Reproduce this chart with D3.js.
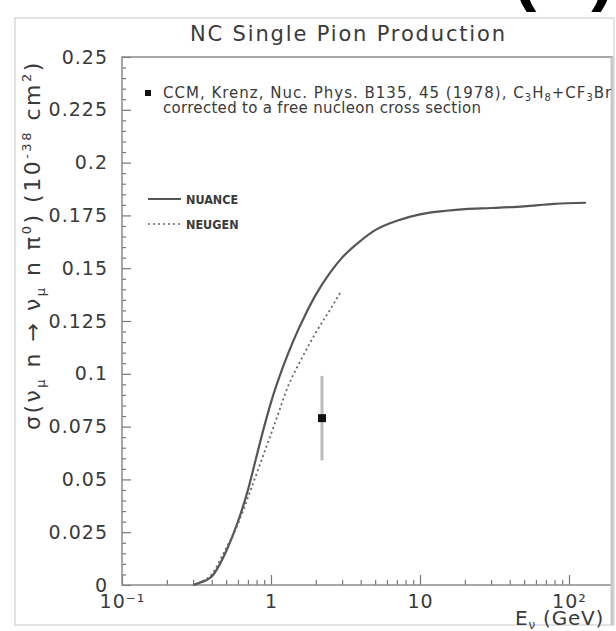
<!DOCTYPE html>
<html>
<head>
<meta charset="utf-8">
<script src="https://cdn.jsdelivr.net/npm/d3@7"></script>
<style>
  body { margin: 0; background: #fff; }
  svg { display: block; }
  text { font-family: "DejaVu Sans", sans-serif; fill: #3a3a3a; }
</style>
</head>
<body>
<div id="chart"></div>
<script>
// NUANCE curve  (E in GeV, sigma in 1e-38 cm^2)
var nuanceE = [0.30, 0.33, 0.40, 0.50, 0.60, 0.70, 0.80, 0.90, 1.0, 1.2, 1.4, 1.7, 2.0, 2.5, 3.0, 4, 5, 7, 10, 15, 20, 30, 50, 80, 130];
var nuanceS = [0, 0.001, 0.004, 0.016, 0.030, 0.045, 0.061, 0.075, 0.0865, 0.103, 0.115, 0.128, 0.1375, 0.148, 0.155, 0.163, 0.168, 0.1725, 0.1755, 0.1772, 0.178, 0.1785, 0.1793, 0.1805, 0.181];
// NEUGEN curve
var neugenE = [0.30, 0.35, 0.40, 0.48, 0.60, 0.73, 0.90, 1.13, 1.25, 1.6, 2.0, 2.5, 2.95];
var neugenS = [0, 0.002, 0.005, 0.015, 0.029, 0.045, 0.0626, 0.082, 0.091, 0.107, 0.1195, 0.1305, 0.139];
// CCM Krenz data point
var dataE = [2.2];
var dataS = [0.079];
var dataErr = [0.02];

var yTicks = [0, 0.025, 0.05, 0.075, 0.1, 0.125, 0.15, 0.175, 0.2, 0.225, 0.25];
var yTickLabels = ["0", "0.025", "0.05", "0.075", "0.1", "0.125", "0.15", "0.175", "0.2", "0.225", "0.25"];
var xTicks = [0.1, 1, 10, 100];
var xTickLabels = ["10\u207B\u00B9", "1", "10", "10\u00B2"];

var W = 616, H = 631;
var pLeft = 122, pRight = 612, pTop = 57, pBottom = 585;

var svg = d3.select("#chart").append("svg")
  .attr("width", W)
  .attr("height", H);

// outer frame
svg.append("rect")
  .attr("x", 15).attr("y", 18).attr("width", 599).attr("height", 607)
  .attr("fill", "none").attr("stroke", "#d0d0d0").attr("stroke-width", 1.2);

// "(a)" label cut off at the top
svg.append("text")
  .attr("x", 513).attr("y", -3)
  .style("font-family", "Liberation Sans, sans-serif")
  .style("font-weight", "bold")
  .style("font-size", "70px")
  .style("letter-spacing", "8px")
  .style("fill", "#000")
  .text("(a)");

// title
svg.append("text")
  .attr("x", 190).attr("y", 41)
  .attr("textLength", 315).attr("lengthAdjust", "spacing")
  .style("font-size", "21px")
  .text("NC Single Pion Production");

var x = d3.scaleLog()
  .domain([0.1, Math.pow(10, (pRight - pLeft) / 149 - 1)])
  .range([pLeft, pRight]);
var y = d3.scaleLinear()
  .domain([0, 0.25])
  .range([pBottom, pTop]);

// minor ticks
var xMinor = [];
[0.1, 1, 10, 100].forEach(function(d) {
  for (var k = 2; k <= 9; k++) { if (d * k < x.domain()[1]) xMinor.push(d * k); }
});
var yMinor = [];
for (var i = 0; i <= 50; i++) { if (i % 5 != 0) yMinor.push(i * 0.005); }

var gx = svg.append("g").attr("transform", "translate(0," + pBottom + ")");
gx.call(d3.axisBottom(x).tickValues(xMinor).tickSize(-5).tickFormat(""));
gx.append("g").call(d3.axisBottom(x).tickValues(xTicks).tickSize(-10).tickPadding(10)
  .tickFormat(function(d, i) { return xTickLabels[i]; }));

var gy = svg.append("g").attr("transform", "translate(" + pLeft + ",0)");
gy.call(d3.axisLeft(y).tickValues(yMinor).tickSize(-4).tickFormat(""));
gy.append("g").call(d3.axisLeft(y).tickValues(yTicks).tickSize(-9).tickPadding(14)
  .tickFormat(function(d, i) { return yTickLabels[i]; }));

svg.selectAll(".domain").remove();
svg.selectAll(".tick line").attr("stroke", "#777").attr("stroke-width", 1.2);
svg.selectAll(".tick text")
  .style("font-family", "DejaVu Sans, sans-serif")
  .style("font-size", "19px")
  .style("letter-spacing", "1px")
  .style("fill", "#3a3a3a");

// plot frame
svg.append("rect")
  .attr("x", pLeft).attr("y", pTop).attr("width", pRight - pLeft).attr("height", pBottom - pTop)
  .attr("fill", "none").attr("stroke", "#8a8a8a").attr("stroke-width", 1.5);
svg.append("line")
  .attr("x1", pRight).attr("x2", pRight).attr("y1", pTop).attr("y2", pBottom + 40)
  .attr("stroke", "#c8c8c8").attr("stroke-width", 3);

var line = d3.line()
  .x(function(d) { return x(d[0]); })
  .y(function(d) { return y(d[1]); })
  .curve(d3.curveMonotoneX);

svg.append("path")
  .datum(nuanceE.map(function(e, i) { return [e, nuanceS[i]]; }))
  .attr("d", line)
  .attr("fill", "none").attr("stroke", "#555").attr("stroke-width", 2.2);

svg.append("path")
  .datum(neugenE.map(function(e, i) { return [e, neugenS[i]]; }))
  .attr("d", line)
  .attr("fill", "none").attr("stroke", "#666").attr("stroke-width", 1.8)
  .attr("stroke-dasharray", "2,3");

// data point with error bar
dataE.forEach(function(e, i) {
  svg.append("line")
    .attr("x1", x(e)).attr("x2", x(e))
    .attr("y1", y(dataS[i] - dataErr[i])).attr("y2", y(dataS[i] + dataErr[i]))
    .attr("stroke", "#bbb").attr("stroke-width", 3);
  svg.append("rect")
    .attr("x", x(e) - 4).attr("y", y(dataS[i]) - 4)
    .attr("width", 8).attr("height", 8)
    .attr("fill", "#111");
});

// data legend
svg.append("defs").append("clipPath").attr("id", "clip")
  .append("rect").attr("x", pLeft).attr("y", pTop).attr("width", pRight - pLeft).attr("height", pBottom - pTop);
var leg = svg.append("g").attr("clip-path", "url(#clip)");
leg.append("rect").attr("x", 145).attr("y", 90).attr("width", 6).attr("height", 6).attr("fill", "#111");
var t1 = leg.append("text").attr("x", 163).attr("y", 98)
  .style("font-size", "15px").style("letter-spacing", "1px");
t1.append("tspan").text("CCM, Krenz, Nuc. Phys. B135, 45 (1978), C");
t1.append("tspan").attr("dy", 3).style("font-size", "10px").text("3");
t1.append("tspan").attr("dy", -3).text("H");
t1.append("tspan").attr("dy", 3).style("font-size", "10px").text("8");
t1.append("tspan").attr("dy", -3).text("+CF");
t1.append("tspan").attr("dy", 3).style("font-size", "10px").text("3");
t1.append("tspan").attr("dy", -3).text("Br");
leg.append("text").attr("x", 163).attr("y", 113)
  .style("font-size", "15px").style("letter-spacing", "0.3px")
  .text("corrected to a free nucleon cross section");

// model legend
svg.append("line").attr("x1", 148).attr("x2", 181).attr("y1", 199).attr("y2", 199)
  .attr("stroke", "#555").attr("stroke-width", 2);
svg.append("line").attr("x1", 148).attr("x2", 181).attr("y1", 224).attr("y2", 224)
  .attr("stroke", "#666").attr("stroke-width", 1.6).attr("stroke-dasharray", "2,3");
svg.append("text").attr("x", 186).attr("y", 204)
  .style("font-family", "DejaVu Sans Condensed, DejaVu Sans, sans-serif")
  .style("font-weight", "bold").style("font-size", "12.5px").text("NUANCE");
svg.append("text").attr("x", 186).attr("y", 229)
  .style("font-family", "DejaVu Sans Condensed, DejaVu Sans, sans-serif")
  .style("font-weight", "bold").style("font-size", "12.5px").text("NEUGEN");

// y title
var yt = svg.append("text")
  .attr("transform", "translate(40,430) rotate(-90)")
  .style("font-size", "22px")
  .style("letter-spacing", "2.5px");
yt.append("tspan").text("\u03C3(\u03BD");
yt.append("tspan").attr("dy", 5).style("font-size", "13px").text("\u03BC");
yt.append("tspan").attr("dy", -5).text(" n \u2192 \u03BD");
yt.append("tspan").attr("dy", 5).style("font-size", "13px").text("\u03BC");
yt.append("tspan").attr("dy", -5).text(" n \u03C0");
yt.append("tspan").attr("dy", -9).style("font-size", "13px").text("0");
yt.append("tspan").attr("dy", 9).text(") (10");
yt.append("tspan").attr("dy", -9).style("font-size", "13px").text("-38");
yt.append("tspan").attr("dy", 9).text(" cm");
yt.append("tspan").attr("dy", -9).style("font-size", "13px").text("2");
yt.append("tspan").attr("dy", 9).text(")");

// x title
var xt = svg.append("text").attr("x", 515).attr("y", 625)
  .style("font-size", "20px").style("letter-spacing", "0.8px");
xt.append("tspan").text("E");
xt.append("tspan").attr("dy", 4).style("font-size", "12px").text("\u03BD");
xt.append("tspan").attr("dy", -4).text(" (GeV)");
</script>
</body>
</html>
